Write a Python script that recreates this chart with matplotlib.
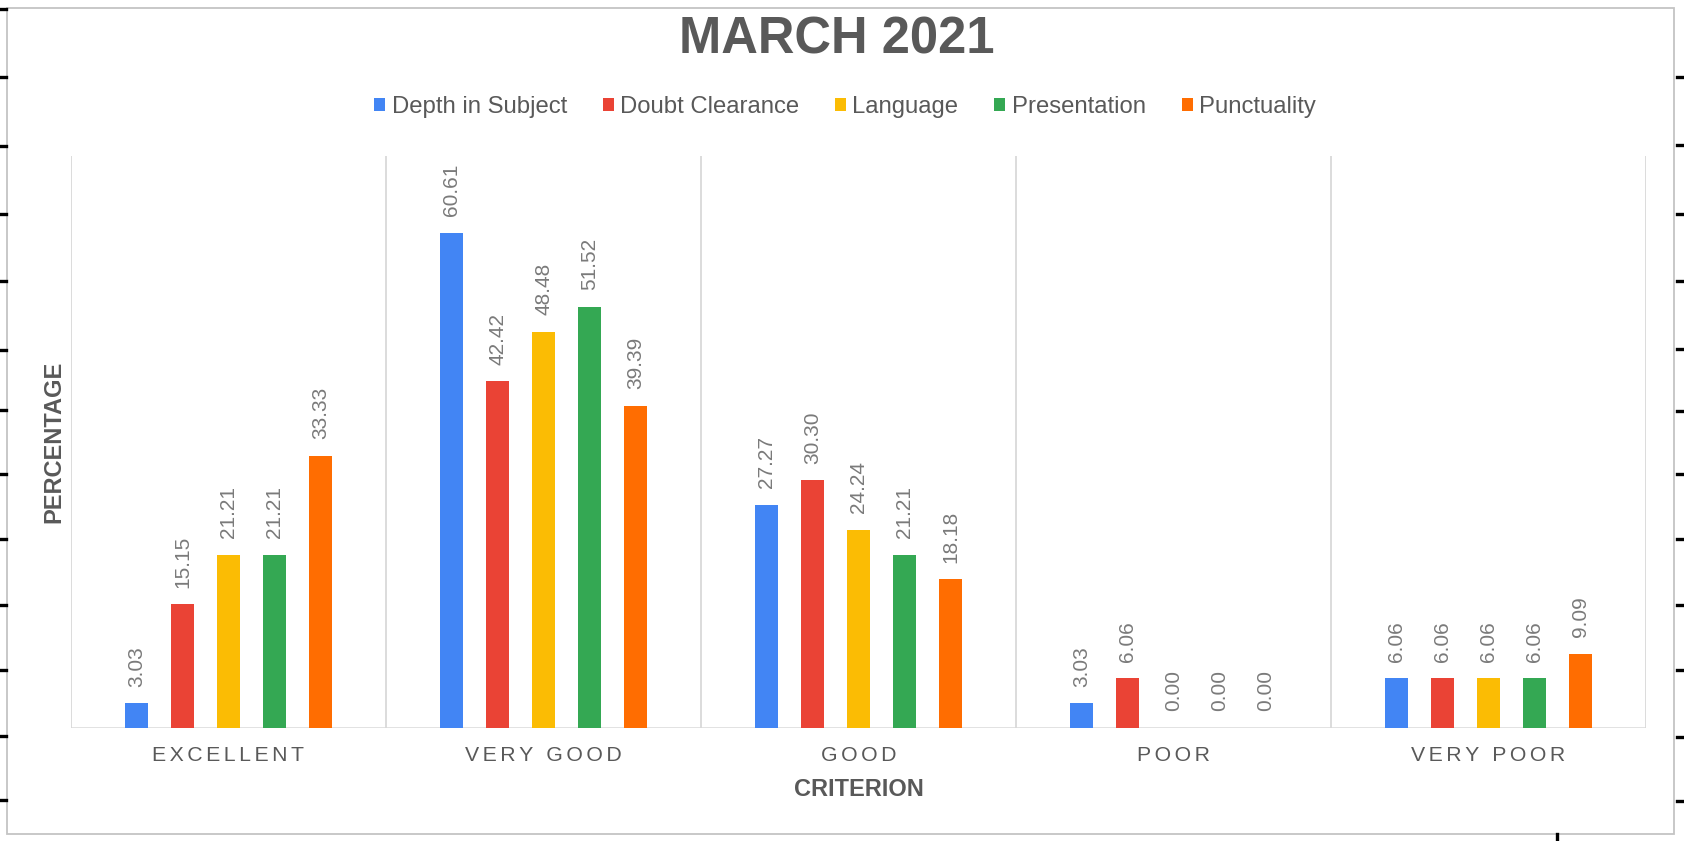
import matplotlib
matplotlib.use("Agg")
import matplotlib.pyplot as plt
from matplotlib.lines import Line2D
from matplotlib.patches import Patch, Rectangle

plt.rcParams['font.family'] = ['Liberation Sans', 'DejaVu Sans']

# data
categories = ['EXCELLENT', 'VERY GOOD', 'GOOD', 'POOR', 'VERY POOR']
series_names = ['Depth in Subject', 'Doubt Clearance', 'Language', 'Presentation', 'Punctuality']
depth = [3.03, 60.61, 27.27, 3.03, 6.06]
doubt = [15.15, 42.42, 30.30, 6.06, 6.06]
language = [21.21, 48.48, 24.24, 0.00, 6.06]
presentation = [21.21, 51.52, 21.21, 0.00, 6.06]
punctuality = [33.33, 39.39, 18.18, 0.00, 9.09]
colors = ['#4285F4', '#EA4335', '#FBBC04', '#34A853', '#FF6D01']

W, H = 1684, 841
fig = plt.figure(figsize=(W / 100, H / 100), dpi=100)

# plot area in pixels: left 71, right 1646, top 156, bottom 728
ax = fig.add_axes([71 / W, 1 - 728 / H, (1646 - 71) / W, (728 - 156) / H])

all_series = [depth, doubt, language, presentation, punctuality]
pitch = 0.146
bar_w = 0.073
for i, (name, vals, col) in enumerate(zip(series_names, all_series, colors)):
    xs = [c + (i - 2) * pitch for c in range(len(categories))]
    ax.bar(xs, vals, width=bar_w, color=col, label=name, zorder=3)
    for x, v in zip(xs, vals):
        ax.annotate(f'{v:.2f}', (x, v), xytext=(0, 12), textcoords='offset points',
                    rotation=90, ha='center', va='bottom', fontsize=15,
                    color='#7a7a7a')

ax.set_xlim(-0.5, len(categories) - 0.5)
ax.set_ylim(0, 70)

# category separators and baseline
ax.vlines([k - 0.5 for k in range(len(categories) + 1)], 0, 70,
          color='#d9d9d9', lw=1.3, zorder=1)
ax.axhline(0, color='#d9d9d9', lw=1.8, zorder=2)
for s in ax.spines.values():
    s.set_visible(False)
ax.set_yticks([])

# letter spaced category labels
spaced = ['\u200a\u200a'.join(list(c)) for c in categories]
ax.set_xticks(range(len(categories)))
ax.set_xticklabels(spaced, fontsize=15.3, color='#595959')
ax.tick_params(axis='x', length=0, pad=13)

ax.set_xlabel('CRITERION', fontsize=17, fontweight='bold', color='#595959', va='center')
ax.xaxis.set_label_coords(0.5, -0.108)
ax.set_ylabel('PERCENTAGE', fontsize=17, fontweight='bold', color='#595959', va='center')
ax.yaxis.set_label_coords(-0.0108, 0.5)

fig.text(837 / W, 1 - 54 / H, 'MARCH 2021', fontsize=36.5, fontweight='bold',
         color='#595959', ha='center', va='baseline')

handles = [Patch(facecolor=c, edgecolor='none') for c in colors]
fig.legend(handles, series_names, loc='center', bbox_to_anchor=(845 / W, 1 - 107 / H),
           ncol=5, frameon=False, fontsize=17.2, labelcolor='#595959',
           handlelength=0.46, handleheight=0.46, handletextpad=0.27,
           columnspacing=1.5, borderpad=0)

# outer frame and spreadsheet edge ticks
fig.add_artist(Rectangle((6.5 / W, 1 - 834 / H), (1674 - 6.5) / W, (834 - 8) / H,
                         transform=fig.transFigure, fill=False,
                         edgecolor='#c4c4c4', lw=1.3))
left_ticks = [9, 77, 146, 214, 281, 350, 410, 474, 539, 605, 670, 736, 800]
right_ticks = [77, 145, 214, 281, 349, 411, 474, 539, 605, 670, 737, 801]
for y in left_ticks:
    fig.add_artist(Line2D([0, 6 / W], [1 - y / H] * 2, color='black', lw=2.4,
                          transform=fig.transFigure))
for y in right_ticks:
    fig.add_artist(Line2D([1677 / W, 1], [1 - y / H] * 2, color='black', lw=2.4,
                          transform=fig.transFigure))
fig.add_artist(Line2D([1557 / W] * 2, [1 - 834 / H, 0], color='black', lw=2.4,
                      transform=fig.transFigure))

fig.savefig('out.png', dpi=100, facecolor='white')
